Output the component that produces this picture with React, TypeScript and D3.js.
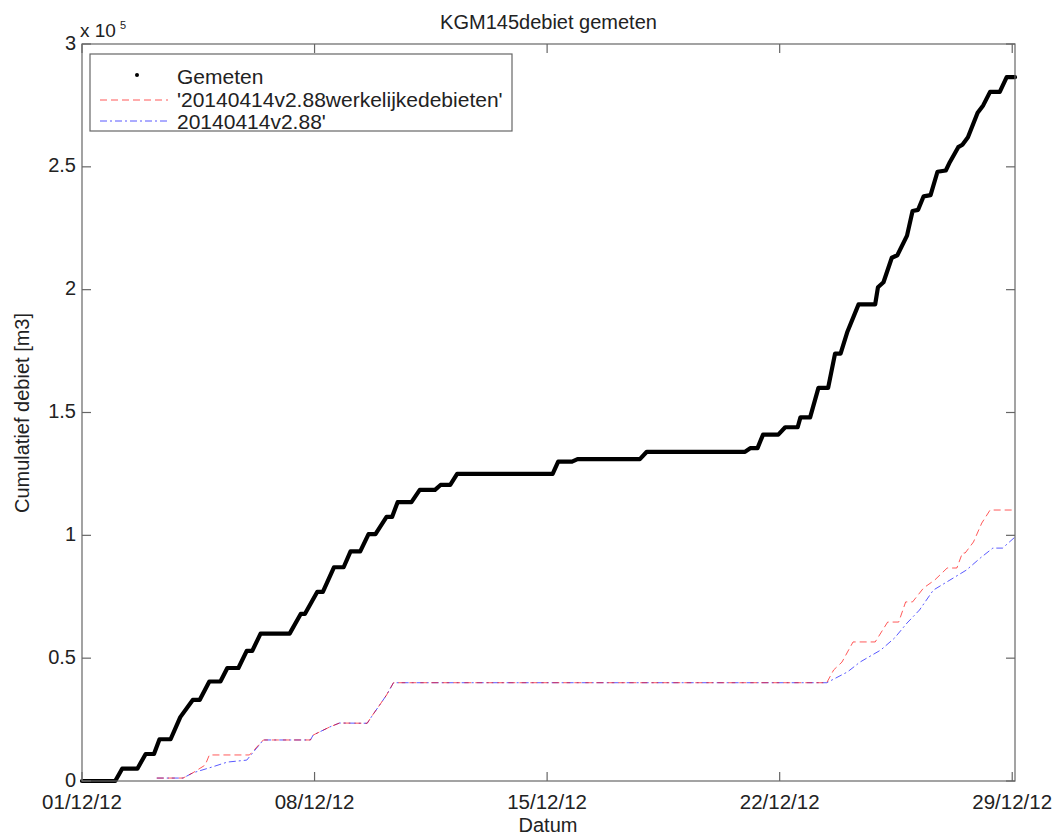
import React from "react";
import * as d3 from "d3";

const title = "KGM145debiet gemeten";
const xLabel = "Datum";
const yLabel = "Cumulatief debiet [m3]";
const startDate = new Date(2012, 11, 1, 0, 0);
const endDate = new Date(2012, 11, 29, 2, 0);
const xTickDates = [new Date(2012, 11, 1), new Date(2012, 11, 8), new Date(2012, 11, 15), new Date(2012, 11, 22), new Date(2012, 11, 29)];
const yTicks = [0, 50000, 100000, 150000, 200000, 250000, 300000];
const yTickLabels = ["0", "0.5", "1", "1.5", "2", "2.5", "3"];
const legendLabels = ["Gemeten", "'20140414v2.88werkelijkedebieten'", "20140414v2.88'"];

// hours since 01/12/12 00:00 and cumulative volume [m3]
const gemetenHours = [0, 24, 29, 40, 46, 52, 56, 64, 71, 80, 85, 92, 100, 105, 113, 119, 123, 129, 150, 158, 161, 170, 174, 182, 189, 194, 201, 207, 212, 220, 224, 228, 238, 244, 255, 259, 266, 271, 340, 344, 354, 358, 403, 408, 479, 483, 488, 492, 503, 508, 517, 519, 526, 532, 539, 544, 548, 553, 561, 573, 575, 579, 585, 589, 596, 600, 604, 608, 613, 618, 624, 627, 633, 636, 640, 647, 651, 656, 663, 668, 674];
const gemetenValues = [0, 0, 5000, 5000, 11000, 11000, 17000, 17000, 26000, 33000, 33000, 40500, 40500, 46000, 46000, 53000, 53000, 60000, 60000, 68000, 68000, 77000, 77000, 87000, 87000, 93500, 93500, 100500, 100500, 107500, 107500, 113500, 113500, 118500, 118500, 120500, 120500, 125000, 125000, 130000, 130000, 131000, 131000, 134000, 134000, 135500, 135500, 141000, 141000, 144000, 144000, 148000, 148000, 160000, 160000, 174000, 174000, 183000, 194000, 194000, 201000, 203000, 213000, 214000, 222000, 232000, 232500, 238000, 238500, 248000, 248500, 252000, 258000, 259000, 262000, 272000, 275000, 280500, 280500, 286500, 286500];

const werkelijkHours = [54, 73, 80, 89, 92, 121, 131, 165, 167, 179, 186, 206, 210, 215, 220, 225, 538, 543, 549, 557, 573, 582, 590, 595, 600, 608, 616, 625, 632, 636, 638, 644, 650, 656, 674];
const werkelijkValues = [1200, 1200, 3300, 6500, 10600, 10600, 16700, 16700, 18700, 22000, 23600, 23500, 26900, 30900, 35000, 40000, 40000, 45200, 48400, 56600, 56600, 64700, 64700, 72900, 72900, 78600, 81800, 86700, 86700, 92800, 92800, 97300, 105000, 110300, 110300];

const v288Hours = [54, 73, 80, 94, 105, 119, 131, 165, 167, 179, 186, 206, 210, 215, 220, 225, 538, 553, 562, 577, 587, 596, 605, 615, 627, 639, 649, 658, 665, 670, 674];
const v288Values = [1200, 1200, 3300, 5700, 7700, 8500, 16700, 16700, 18700, 22000, 23600, 23500, 26900, 30900, 35000, 40000, 40000, 44400, 48400, 53300, 58200, 64300, 69600, 77700, 81800, 85900, 90800, 94800, 94800, 97300, 99300];

const W = 1059;
const H = 837;
const left = 82;
const right = 1015;
const top = 44;
const bottom = 781;
const axisColor = "#666";
const textColor = "#222";
const font = "'Liberation Sans', Arial, sans-serif";

export default function App() {
  const x = d3.scaleTime().domain([startDate, endDate]).range([left, right]);
  const y = d3.scaleLinear().domain([0, 300000]).range([bottom, top]);
  const fmt = d3.timeFormat("%d/%m/%y");

  const mk = (hours: number[], vals: number[]) =>
    hours.map((h, i) => ({ t: d3.timeHour.offset(startDate, h), v: vals[i] }));
  const line = d3
    .line<{ t: Date; v: number }>()
    .x((d) => x(d.t))
    .y((d) => y(d.v));

  const gem = mk(gemetenHours, gemetenValues);
  const wer = mk(werkelijkHours, werkelijkValues);
  const v288 = mk(v288Hours, v288Values);

  const tickLen = 9;

  return (
    <svg width={W} height={H} style={{ position: "absolute", left: 0, top: 0, background: "#fff" }} fontFamily={font}>
      <rect x={0} y={0} width={W} height={H} fill="#fff" />
      <text x={(left + right) / 2} y={29} fontSize={20} textAnchor="middle" fill={textColor}>{title}</text>

      {/* data */}
      <path d={line(v288) || ""} fill="none" stroke="#0000ff" strokeWidth={1} strokeDasharray="7,3,2,3" opacity={0.65} />
      <path d={line(wer) || ""} fill="none" stroke="#ff0000" strokeWidth={1} strokeDasharray="7,4" opacity={0.65} />
      <path d={line(gem) || ""} fill="none" stroke="#000" strokeWidth={4.2} strokeLinejoin="round" strokeLinecap="round" />

      {/* axes box */}
      <rect x={left} y={top} width={right - left} height={bottom - top} fill="none" stroke={axisColor} strokeWidth={1.2} />
      {yTicks.map((t, i) => (
        <g key={"y" + i}>
          <line x1={left} x2={left + tickLen} y1={y(t)} y2={y(t)} stroke={axisColor} strokeWidth={1.2} />
          <line x1={right} x2={right - tickLen} y1={y(t)} y2={y(t)} stroke={axisColor} strokeWidth={1.2} />
          <text x={left - 6} y={y(t) + 5.5} fontSize={20} textAnchor="end" fill={textColor}>{yTickLabels[i]}</text>
        </g>
      ))}
      {xTickDates.map((d, i) => (
        <g key={"x" + i}>
          <line x1={x(d)} x2={x(d)} y1={bottom} y2={bottom - tickLen} stroke={axisColor} strokeWidth={1.2} />
          <line x1={x(d)} x2={x(d)} y1={top} y2={top + tickLen} stroke={axisColor} strokeWidth={1.2} />
          <text x={x(d)} y={809} fontSize={20.5} textAnchor="middle" fill={textColor}>{fmt(d)}</text>
        </g>
      ))}
      <text x={80} y={37} fontSize={19} fill={textColor}>x 10</text>
      <text x={120} y={29} fontSize={11} fill={textColor}>5</text>

      <text x={548} y={832} fontSize={20} textAnchor="middle" fill={textColor}>{xLabel}</text>
      <text transform={`translate(29,413) rotate(-90)`} fontSize={20} textAnchor="middle" fill={textColor}>{yLabel}</text>

      {/* legend */}
      <rect x={90} y={54} width={422} height={77} fill="#fff" stroke={axisColor} strokeWidth={1.2} />
      <circle cx={137} cy={75} r={2} fill="#000" />
      <text x={177} y={76} fontSize={21} dominantBaseline="central" fill={textColor}>{legendLabels[0]}</text>
      <line x1={100} x2={168} y1={100} y2={100} stroke="#ff0000" strokeWidth={1} strokeDasharray="7,4" opacity={0.65} />
      <text x={177} y={99} fontSize={21} dominantBaseline="central" fill={textColor}>{legendLabels[1]}</text>
      <line x1={100} x2={168} y1={121} y2={121} stroke="#0000ff" strokeWidth={1} strokeDasharray="7,3,2,3" opacity={0.65} />
      <text x={177} y={121} fontSize={21} dominantBaseline="central" fill={textColor}>{legendLabels[2]}</text>
    </svg>
  );
}
